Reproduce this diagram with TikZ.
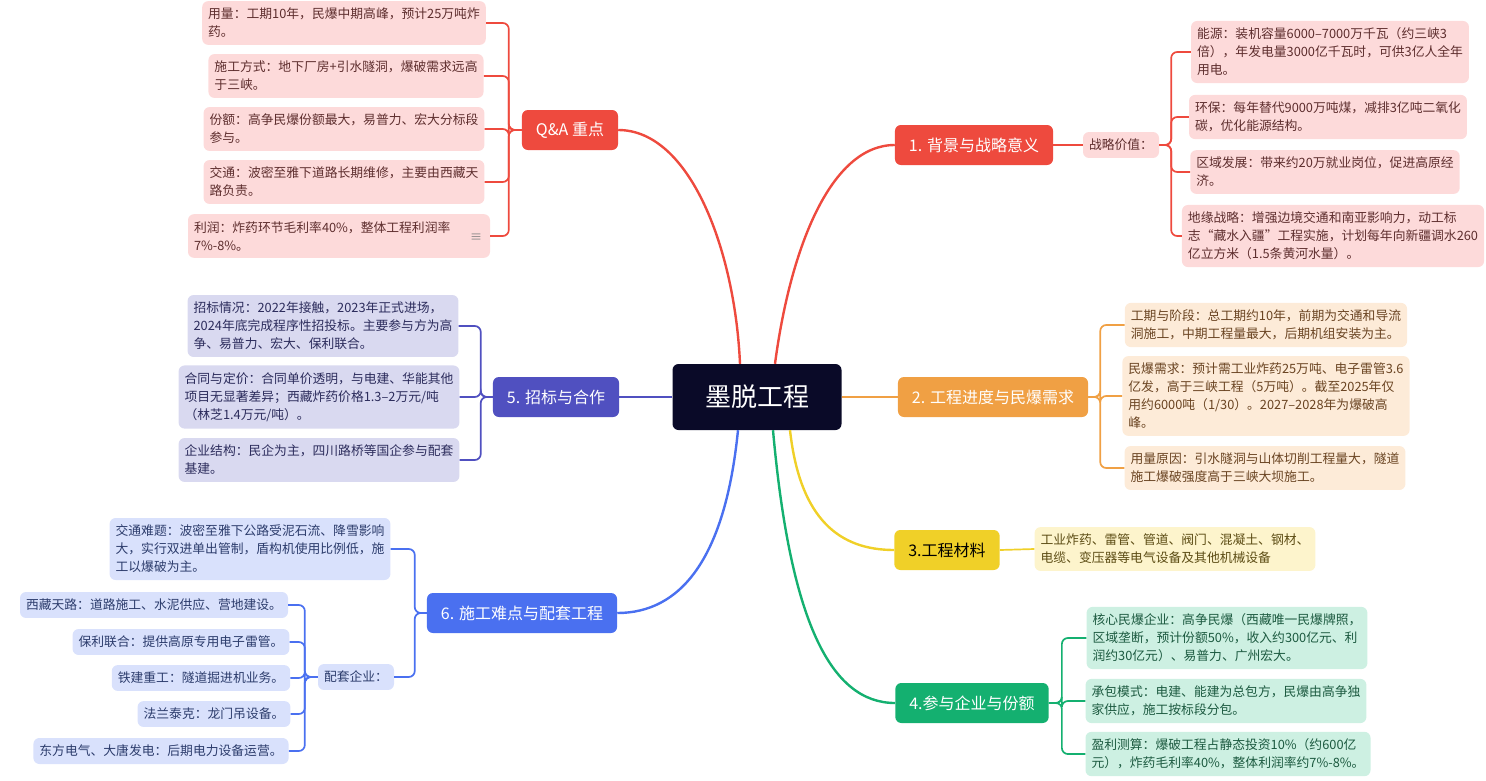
\documentclass[tikz,border=0pt]{standalone}
\usepackage{fontspec}
\setmainfont{Noto Sans CJK SC}
\definecolor{cred}{HTML}{EE4A3E}
\definecolor{lred}{HTML}{FDDADA}
\definecolor{tred}{HTML}{5E2E2E}
\definecolor{corange}{HTML}{F0A044}
\definecolor{lorange}{HTML}{FDEBD8}
\definecolor{torange}{HTML}{6A4422}
\definecolor{cyellow}{HTML}{F0D028}
\definecolor{lyellow}{HTML}{FDF4CC}
\definecolor{tyellow}{HTML}{5C4C14}
\definecolor{cgreen}{HTML}{14B070}
\definecolor{lgreen}{HTML}{CDF0E2}
\definecolor{tgreen}{HTML}{1C5A40}
\definecolor{cindigo}{HTML}{5050C0}
\definecolor{lindigo}{HTML}{D9D9F0}
\definecolor{tindigo}{HTML}{2C2C5C}
\definecolor{cblue}{HTML}{4A70F0}
\definecolor{lblue}{HTML}{D9E1FC}
\definecolor{tblue}{HTML}{2C3C6C}
\definecolor{croot}{HTML}{0A0A28}
\tikzset{
	rootbox/.style = {fill=croot, text=white, rounded corners=6pt, minimum width=169pt, minimum height=66pt, font=\fontsize{26}{30}\selectfont},
	mainbox/.style = {fill=#1, text=white, rounded corners=6pt, minimum height=40pt, inner xsep=14pt, font=\fontsize{16}{19}\selectfont},
	subbox/.style 2 args = {fill=#1, text=#2, rounded corners=6pt, align=left, inner xsep=6pt, inner ysep=7pt, font=\fontsize{12.8}{18}\selectfont},
	trunk/.style = {draw=#1, line width=2.4pt},
	twig/.style = {draw=#1, line width=1.7pt, rounded corners=6pt},
}
\begin{document}
\begin{tikzpicture}[x=1pt, y=-1pt]
		\useasboundingbox (0,0) rectangle (1486,780);
		% root and main branches
		\node[rootbox] (root) at (757,397) {墨脱工程};
		\node[mainbox=cred] (qa) at (570,130) {Q\&A 重点};
		\node[mainbox=cred] (b1) at (974,145) {1. 背景与战略意义};
		\node[mainbox=corange] (b2) at (993,397) {2. 工程进度与民爆需求};
		\node[mainbox=cyellow, text=black] (b3) at (947,550) {3.工程材料};
		\node[mainbox=cgreen] (b4) at (972,703) {4.参与企业与份额};
		\node[mainbox=cindigo] (b5) at (556,397) {5. 招标与合作};
		\node[mainbox=cblue] (b6) at (522,613) {6. 施工难点与配套工程};
		\draw[trunk=cred] ([xshift=-17pt]root.north) .. controls (735,250) and (690,130) .. (qa.east);
		\draw[trunk=cred] ([xshift=18pt]root.north) .. controls (790,250) and (830,145) .. (b1.west);
		\draw[trunk=corange] (root.east) -- (b2.west);
		\draw[trunk=cyellow] ([xshift=33pt]root.south) .. controls (800,520) and (840,550) .. (b3.west);
		\draw[trunk=cgreen] ([xshift=16pt]root.south) .. controls (790,620) and (830,703) .. (b4.west);
		\draw[trunk=cindigo] (root.west) -- (b5.east);
		\draw[trunk=cblue] ([xshift=-19pt]root.south) .. controls (725,560) and (680,613) .. (b6.east);
		% Q&A
		\node[subbox={lred}{tred}] (qa1) at (344,23) {用量：工期10年，民爆中期高峰，预计25万吨炸\\药。};
		\node[subbox={lred}{tred}] (qa2) at (346,76) {施工方式：地下厂房+引水隧洞，爆破需求远高\\于三峡。};
		\node[subbox={lred}{tred}] (qa3) at (344,129) {份额：高争民爆份额最大，易普力、宏大分标段\\参与。};
		\node[subbox={lred}{tred}] (qa4) at (344,182) {交通：波密至雅下道路长期维修，主要由西藏天\\路负责。};
		\node[subbox={lred}{tred}, text width=290pt] (qa5) at (339,236) {利润：炸药环节毛利率40\%，整体工程利润率\\7\%-8\%。};
		\node[text=gray, font=\fontsize{12}{12}\selectfont] (qanote) at (476,238) {≡};
		\foreach \c in {qa1,qa2,qa3,qa4,qa5}
			\draw[twig=cred] (qa.west) -- ++(-13,0) |- (\c.east);
		% 1
		\node[subbox={lred}{tred}] (sv) at (1121,145) {战略价值：};
		\draw[twig=cred] (b1.east) -- (sv.west);
		\node[subbox={lred}{tred}] (sv1) at (1330,52) {能源：装机容量6000–7000万千瓦（约三峡3\\倍），年发电量3000亿千瓦时，可供3亿人全年\\用电。};
		\node[subbox={lred}{tred}] (sv2) at (1328,117) {环保：每年替代9000万吨煤，减排3亿吨二氧化\\碳，优化能源结构。};
		\node[subbox={lred}{tred}] (sv3) at (1325,172) {区域发展：带来约20万就业岗位，促进高原经\\济。};
		\node[subbox={lred}{tred}] (sv4) at (1333,236) {地缘战略：增强边境交通和南亚影响力，动工标\\志“藏水入疆”工程实施，计划每年向新疆调水260\\亿立方米（1.5条黄河水量）。};
		\foreach \c in {sv1,sv2,sv3,sv4}
			\draw[twig=cred] (sv.east) -- ++(12,0) |- (\c.west);
		% 2
		\node[subbox={lorange}{torange}] (p1) at (1266,325) {工期与阶段：总工期约10年，前期为交通和导流\\洞施工，中期工程量最大，后期机组安装为主。};
		\node[subbox={lorange}{torange}] (p2) at (1266,396) {民爆需求：预计需工业炸药25万吨、电子雷管3.6\\亿发，高于三峡工程（5万吨）。截至2025年仅\\用约6000吨（1/30）。2027–2028年为爆破高\\峰。};
		\node[subbox={lorange}{torange}] (p3) at (1265,468) {用量原因：引水隧洞与山体切削工程量大，隧道\\施工爆破强度高于三峡大坝施工。};
		\foreach \c in {p1,p2,p3}
			\draw[twig=corange] (b2.east) -- ++(12,0) |- (\c.west);
		% 3
		\node[subbox={lyellow}{tyellow}] (m1) at (1175,549) {工业炸药、雷管、管道、阀门、混凝土、钢材、\\电缆、变压器等电气设备及其他机械设备};
		\draw[twig=cyellow] (b3.east) -- (m1.west);
		% 4
		\node[subbox={lgreen}{tgreen}] (e1) at (1227,638) {核心民爆企业：高争民爆（西藏唯一民爆牌照，\\区域垄断，预计份额50\%，收入约300亿元、利\\润约30亿元）、易普力、广州宏大。};
		\node[subbox={lgreen}{tgreen}] (e2) at (1226,701) {承包模式：电建、能建为总包方，民爆由高争独\\家供应，施工按标段分包。};
		\node[subbox={lgreen}{tgreen}] (e3) at (1228,754) {盈利测算：爆破工程占静态投资10\%（约600亿\\元），炸药毛利率40\%，整体利润率约7\%-8\%。};
		\foreach \c in {e1,e2,e3}
			\draw[twig=cgreen] (b4.east) -- ++(13,0) |- (\c.west);
		% 5
		\node[subbox={lindigo}{tindigo}] (t1) at (323,326) {招标情况：2022年接触，2023年正式进场，\\2024年底完成程序性招投标。主要参与方为高\\争、易普力、宏大、保利联合。};
		\node[subbox={lindigo}{tindigo}] (t2) at (319,397) {合同与定价：合同单价透明，与电建、华能其他\\项目无显著差异；西藏炸药价格1.3–2万元/吨\\（林芝1.4万元/吨）。};
		\node[subbox={lindigo}{tindigo}] (t3) at (319,460) {企业结构：民企为主，四川路桥等国企参与配套\\基建。};
		\foreach \c in {t1,t2,t3}
			\draw[twig=cindigo] (b5.west) -- ++(-12,0) |- (\c.east);
		% 6
		\node[subbox={lblue}{tblue}] (d1) at (250,549) {交通难题：波密至雅下公路受泥石流、降雪影响\\大，实行双进单出管制，盾构机使用比例低，施\\工以爆破为主。};
		\node[subbox={lblue}{tblue}] (pt) at (356,677) {配套企业：};
		\foreach \c in {d1,pt}
			\draw[twig=cblue] (b6.west) -- ++(-12,0) |- (\c.east);
		\node[subbox={lblue}{tblue}] (pt1) at (154,605) {西藏天路：道路施工、水泥供应、营地建设。};
		\node[subbox={lblue}{tblue}] (pt2) at (181,642) {保利联合：提供高原专用电子雷管。};
		\node[subbox={lblue}{tblue}] (pt3) at (201,678) {铁建重工：隧道掘进机业务。};
		\node[subbox={lblue}{tblue}] (pt4) at (214,714) {法兰泰克：龙门吊设备。};
		\node[subbox={lblue}{tblue}] (pt5) at (161,751) {东方电气、大唐发电：后期电力设备运营。};
		\foreach \c in {pt1,pt2,pt3,pt4,pt5}
			\draw[twig=cblue] (pt.west) -- ++(-13,0) |- (\c.east);
	\end{tikzpicture}
\end{document}
